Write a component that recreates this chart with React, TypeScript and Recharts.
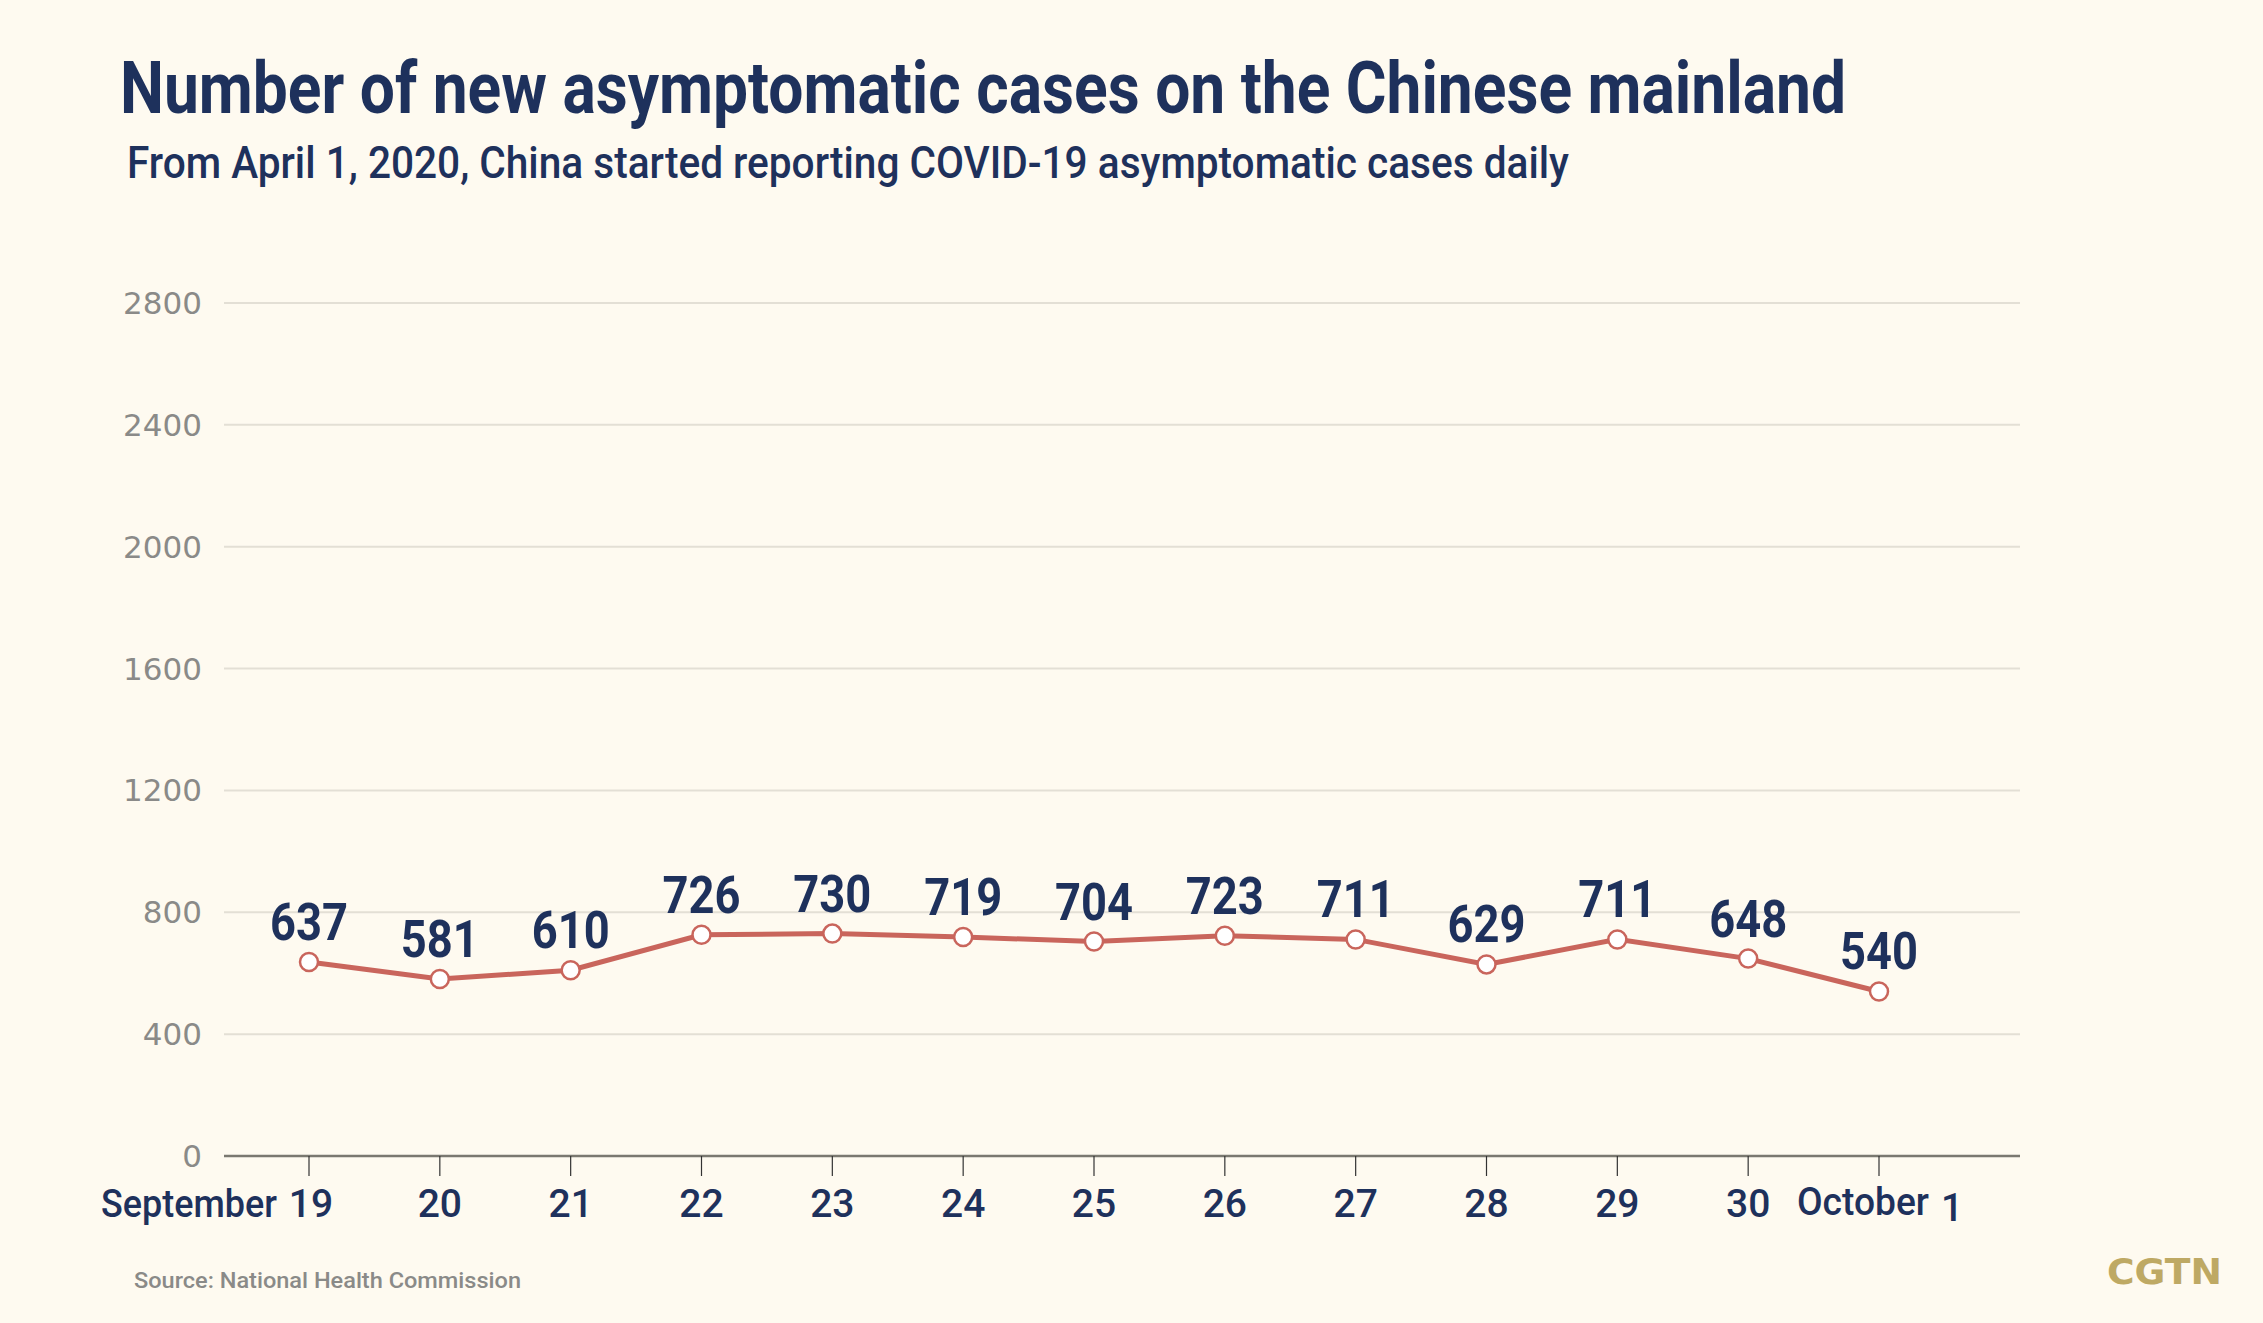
import { LineChart, Line, XAxis, YAxis, CartesianGrid, LabelList } from "recharts";

const NAVY = "#1e315c";
const RED = "#c9655c";
const CREAM = "#fefaf0";
const GREY = "#8a8a88";
const GOLD = "#bea964";

// ── Data ──────────────────────────────────────────────────────────────────────
const days = ["19", "20", "21", "22", "23", "24", "25", "26", "27", "28", "29", "30", "1"];
const months = ["September", "", "", "", "", "", "", "", "", "", "", "", "October"];
const newCases = [637, 581, 610, 726, 730, 719, 704, 723, 711, 629, 711, 648, 540];
const yTicks = [0, 400, 800, 1200, 1600, 2000, 2400, 2800];

const data = days.map((d, i) => ({ day: d, month: months[i], cases: newCases[i] }));

// ── X tick: day number, with month name on first / last ─────────────────────
function DayTick(props: any) {
  const { x, y, payload, index } = props;
  const month = months[index];
  const style = { fontFamily: "Roboto", fontWeight: 500, fontSize: 39, fill: NAVY };
  if (month && index === 0) {
    return (
      <g>
        <text x={x - 32} y={y} dy={37} textAnchor="end" textLength={176} lengthAdjust="spacingAndGlyphs" style={style}>{month}</text>
        <text x={x + 2} y={y} dy={37} textAnchor="middle" style={style}>{payload.value}</text>
      </g>
    );
  }
  if (month) {
    return (
      <g>
        <text x={x + 50} y={y} dy={35} textAnchor="end" textLength={132} lengthAdjust="spacingAndGlyphs" style={style}>{month}</text>
        <text x={x + 62} y={y} dy={41} textAnchor="start" style={style}>{payload.value}</text>
      </g>
    );
  }
  return (
    <text x={x} y={y} dy={37} textAnchor="middle" style={style}>{payload.value}</text>
  );
}

// ── Value label above each point ─────────────────────────────────────────────
function ValueLabel(props: any) {
  const { x, y, value } = props;
  const txt = String(value);
  return (
    <text
      x={x}
      y={y - 22}
      textAnchor="middle"
      textLength={26 * txt.length}
      lengthAdjust="spacingAndGlyphs"
      style={{ fontFamily: "Roboto", fontWeight: 700, fontSize: 52, fill: NAVY }}
    >
      {txt}
    </text>
  );
}

export default function App() {
  return (
    <div
      style={{
        position: "absolute",
        left: 0,
        top: 0,
        width: 2263,
        height: 1323,
        background: CREAM,
        overflow: "hidden",
      }}
    >
      <LineChart
        width={2263}
        height={1323}
        data={data}
        margin={{ top: 303, right: 243, bottom: 107, left: 124 }}
      >
        <CartesianGrid vertical={false} stroke="#e3dfd5" strokeWidth={2} />
        <XAxis
          dataKey="day"
          height={60}
          padding={{ left: 85, right: 141 }}
          axisLine={{ stroke: "#7a7870", strokeWidth: 2.5 }}
          tickLine={{ stroke: "#333", strokeWidth: 1.2 }}
          tickSize={20}
          tickMargin={4}
          interval={0}
          tick={<DayTick />}
        />
        <YAxis
          width={100}
          domain={[0, 2800]}
          ticks={yTicks}
          axisLine={false}
          tickLine={false}
          tickSize={0}
          tickMargin={22}
          tick={{ fontFamily: "DejaVu Sans", fontSize: 31, fill: GREY }}
        />
        <Line
          dataKey="cases"
          stroke={RED}
          strokeWidth={5}
          dot={{ r: 9, fill: "#fff", stroke: RED, strokeWidth: 2.5 }}
          isAnimationActive={false}
        >
          <LabelList dataKey="cases" content={<ValueLabel />} />
        </Line>
      </LineChart>

      {/* titles, source and logo */}
      <svg
        width={2263}
        height={1323}
        style={{ position: "absolute", left: 0, top: 0, pointerEvents: "none" }}
      >
        <text
          x={120}
          y={113}
          textLength={1726}
          lengthAdjust="spacingAndGlyphs"
          style={{ fontFamily: "Roboto", fontWeight: 700, fontSize: 72, fill: NAVY }}
        >
          Number of new asymptomatic cases on the Chinese mainland
        </text>
        <text
          x={127}
          y={178}
          textLength={1442}
          lengthAdjust="spacingAndGlyphs"
          style={{ fontFamily: "Roboto", fontWeight: 500, fontSize: 44, fill: NAVY }}
        >
          From April 1, 2020, China started reporting COVID-19 asymptomatic cases daily
        </text>
        <text
          x={134}
          y={1288}
          textLength={387}
          lengthAdjust="spacingAndGlyphs"
          style={{ fontFamily: "Roboto", fontWeight: 500, fontSize: 22, fill: GREY }}
        >
          Source: National Health Commission
        </text>
        <text
          x={2107}
          y={1284}
          textLength={115}
          lengthAdjust="spacingAndGlyphs"
          style={{ fontFamily: "DejaVu Sans", fontWeight: 700, fontSize: 36, fill: GOLD }}
        >
          CGTN
        </text>
      </svg>
    </div>
  );
}
